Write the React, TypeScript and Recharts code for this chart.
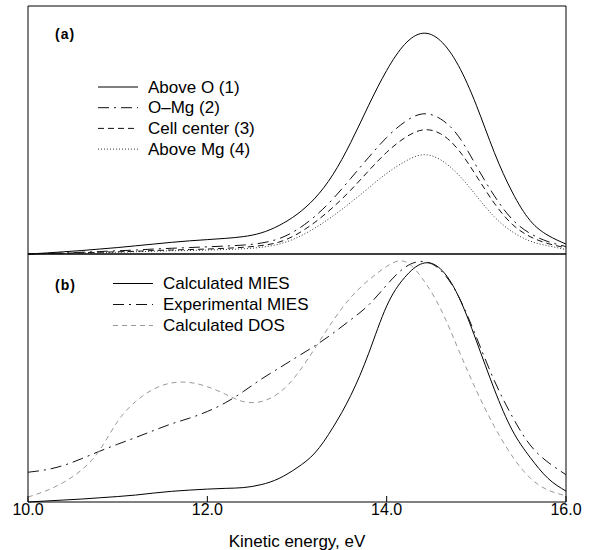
import { LineChart, Line, XAxis, YAxis, ReferenceArea, Label } from "recharts";

// kinetic energy grid (eV)
const energy = [
  10.0, 10.2, 10.4, 10.6, 10.8, 11.0, 11.2, 11.4, 11.6, 11.8, 12.0, 12.2, 12.4, 12.6, 12.8, 13.0,
  13.2, 13.4, 13.6, 13.8, 14.0, 14.2, 14.4, 14.6, 14.8, 15.0, 15.2, 15.4, 15.6, 15.8, 16.0,
];

// panel (a)
const aboveO = [
  0, 0.004, 0.009, 0.014, 0.02, 0.026, 0.033, 0.04, 0.047, 0.053, 0.058, 0.063, 0.07, 0.085, 0.115, 0.16,
  0.225, 0.32, 0.45, 0.6, 0.74, 0.845, 0.89, 0.86, 0.76, 0.6, 0.41, 0.25, 0.135, 0.075, 0.04,
];
const oMg = [
  0, 0.002, 0.004, 0.007, 0.01, 0.013, 0.016, 0.02, 0.023, 0.026, 0.029, 0.032, 0.036, 0.044, 0.062, 0.098,
  0.152, 0.222, 0.305, 0.39, 0.47, 0.532, 0.565, 0.545, 0.475, 0.355, 0.235, 0.14, 0.083, 0.05, 0.03,
];
const cellCenter = [
  0, 0.002, 0.003, 0.005, 0.007, 0.009, 0.011, 0.014, 0.016, 0.018, 0.02, 0.023, 0.027, 0.034, 0.048, 0.08,
  0.128, 0.188, 0.258, 0.336, 0.41, 0.468, 0.5, 0.485, 0.42, 0.315, 0.205, 0.12, 0.07, 0.042, 0.025,
];
const aboveMg = [
  0, 0.001, 0.002, 0.004, 0.005, 0.007, 0.009, 0.011, 0.013, 0.014, 0.016, 0.018, 0.021, 0.027, 0.04, 0.066,
  0.105, 0.153, 0.208, 0.267, 0.325, 0.372, 0.4, 0.38, 0.32, 0.235, 0.15, 0.09, 0.052, 0.033, 0.018,
];

// panel (b)
const calcMies = [
  0, 0.004, 0.008, 0.012, 0.017, 0.022, 0.028, 0.036, 0.043, 0.048, 0.052, 0.055, 0.058, 0.07, 0.095, 0.138,
  0.198, 0.3, 0.43, 0.6, 0.79, 0.905, 0.962, 0.94, 0.83, 0.65, 0.455, 0.29, 0.18, 0.095, 0.044,
];
const expMies = [
  0.12, 0.13, 0.148, 0.175, 0.205, 0.233, 0.26, 0.288, 0.315, 0.338, 0.365, 0.4, 0.445, 0.495, 0.54, 0.585,
  0.63, 0.68, 0.735, 0.795, 0.875, 0.945, 0.97, 0.935, 0.83, 0.665, 0.49, 0.345, 0.23, 0.16, 0.11,
];
const calcDos = [
  0.02, 0.045, 0.08, 0.13, 0.21, 0.325, 0.405, 0.455, 0.48, 0.482, 0.465, 0.435, 0.405, 0.405, 0.44, 0.515,
  0.62, 0.73, 0.825, 0.895, 0.95, 0.97, 0.9, 0.78, 0.615, 0.45, 0.305, 0.185, 0.097, 0.048, 0.025,
];

const labelTicks = [10, 12, 14, 16];
const innerTicks = [11, 12, 13, 14, 15];
const minorTicks = [11, 13, 15];

const FONT = '"Liberation Sans", Arial, Helvetica, sans-serif';

type Series = { key: string; name: string; values: number[]; color: string; dash?: string; width: number };

const topSeries: Series[] = [
  { key: "aboveO", name: "Above O (1)", values: aboveO, color: "#000", width: 1 },
  { key: "oMg", name: "O\u2013Mg (2)", values: oMg, color: "#111", dash: "11 5 2 5", width: 1 },
  { key: "cellCenter", name: "Cell center (3)", values: cellCenter, color: "#111", dash: "6 4", width: 1 },
  { key: "aboveMg", name: "Above Mg (4)", values: aboveMg, color: "#333", dash: "1 2", width: 1 },
];

const bottomSeries: Series[] = [
  { key: "calcMies", name: "Calculated MIES", values: calcMies, color: "#000", width: 1 },
  { key: "expMies", name: "Experimental MIES", values: expMies, color: "#111", dash: "11 5 2 5", width: 1 },
  { key: "calcDos", name: "Calculated DOS", values: calcDos, color: "#999", dash: "5 4", width: 1 },
];

function buildRows(series: Series[]) {
  return energy.map((e, i) => {
    const row: Record<string, number> = { e };
    series.forEach((s) => {
      row[s.key] = s.values[i];
    });
    return row;
  });
}

function Legendish({ series, x, y, step, label, labelY }: { series: Series[]; x: number; y: number; step: number; label: string; labelY: number }) {
  return (
    <g fontFamily={FONT}>
      <text x={55} y={labelY} fontSize={14} fontWeight="bold" letterSpacing={1} fill="#000">
        {label}
      </text>
      {series.map((s, i) => (
        <g key={s.key}>
          <line x1={x} x2={x + 40} y1={y + i * step} y2={y + i * step} stroke={s.color} strokeWidth={s.width} strokeDasharray={s.dash} />
          <text x={x + 50} y={y + i * step + 5.5} fontSize={17} fill="#000">
            {s.name}
          </text>
        </g>
      ))}
    </g>
  );
}

export default function App() {
  const topRows = buildRows(topSeries);
  const bottomRows = buildRows(bottomSeries);

  return (
    <div style={{ position: "absolute", left: 0, top: 0, width: 593, height: 550, background: "#fff", fontFamily: FONT }}>
      <div style={{ position: "absolute", left: 0, top: 0 }}>
        <LineChart width={593} height={284} data={topRows} margin={{ top: 6, right: 27, bottom: 0, left: 28 }}>
          <XAxis
            xAxisId="xa"
            type="number"
            dataKey="e"
            domain={[10, 16]}
            ticks={innerTicks}
            interval={0}
            height={30}
            axisLine={false}
            tickLine={{ stroke: "#000" }}
            tickSize={-5}
            tick={false}
          />
          <XAxis
            xAxisId="aTop"
            orientation="top"
            mirror
            type="number"
            dataKey="e"
            domain={[10, 16]}
            ticks={innerTicks}
            interval={0}
            axisLine={false}
            tickLine={{ stroke: "#000" }}
            tickSize={5}
            tick={false}
          />
          <YAxis hide type="number" domain={[0, 1]} />
          <ReferenceArea xAxisId="xa" x1={10} x2={16} y1={0} y2={1} fill="none" stroke="#000" strokeWidth={1} ifOverflow="visible" />
          {topSeries.map((s) => (
            <Line
              key={s.key}
              xAxisId="xa"
              type="natural"
              dataKey={s.key}
              stroke={s.color}
              strokeWidth={s.width}
              strokeDasharray={s.dash}
              dot={false}
              activeDot={false}
              isAnimationActive={false}
            />
          ))}
        </LineChart>
      </div>
      <div style={{ position: "absolute", left: 0, top: 250 }}>
        <LineChart width={593} height={300} data={bottomRows} margin={{ top: 4, right: 27, bottom: 0, left: 28 }}>
          <XAxis
            xAxisId="lab"
            type="number"
            dataKey="e"
            domain={[10, 16]}
            ticks={labelTicks}
            interval={0}
            height={48}
            axisLine={false}
            tickLine={{ stroke: "#000" }}
            tickSize={-6}
            tickMargin={8}
            tickFormatter={(v: number) => v.toFixed(1)}
            tick={{ fill: "#000", fontSize: 16, fontFamily: FONT }}
          >
            <Label value="Kinetic energy, eV" position="insideBottom" offset={3} fill="#000" fontSize={17} fontFamily={FONT} />
          </XAxis>
          <XAxis
            xAxisId="bTop"
            orientation="top"
            mirror
            type="number"
            dataKey="e"
            domain={[10, 16]}
            ticks={innerTicks}
            interval={0}
            axisLine={false}
            tickLine={{ stroke: "#000" }}
            tickSize={5}
            tick={false}
          />
          <XAxis
            xAxisId="bMinor"
            orientation="bottom"
            mirror
            type="number"
            dataKey="e"
            domain={[10, 16]}
            ticks={minorTicks}
            interval={0}
            axisLine={false}
            tickLine={{ stroke: "#000" }}
            tickSize={3}
            tick={false}
          />
          <YAxis hide type="number" domain={[0, 1]} />
          <ReferenceArea xAxisId="lab" x1={10} x2={16} y1={0} y2={1} fill="none" stroke="#000" strokeWidth={1} ifOverflow="visible" />
          {bottomSeries.map((s) => (
            <Line
              key={s.key}
              xAxisId="lab"
              type="natural"
              dataKey={s.key}
              stroke={s.color}
              strokeWidth={s.width}
              strokeDasharray={s.dash}
              dot={false}
              activeDot={false}
              isAnimationActive={false}
            />
          ))}
        </LineChart>
      </div>
      <svg width={593} height={550} style={{ position: "absolute", left: 0, top: 0, pointerEvents: "none" }}>
        <Legendish series={topSeries} x={98} y={87} step={20.7} label="(a)" labelY={39} />
        <Legendish series={bottomSeries} x={113} y={283.5} step={21} label="(b)" labelY={290} />
      </svg>
    </div>
  );
}
